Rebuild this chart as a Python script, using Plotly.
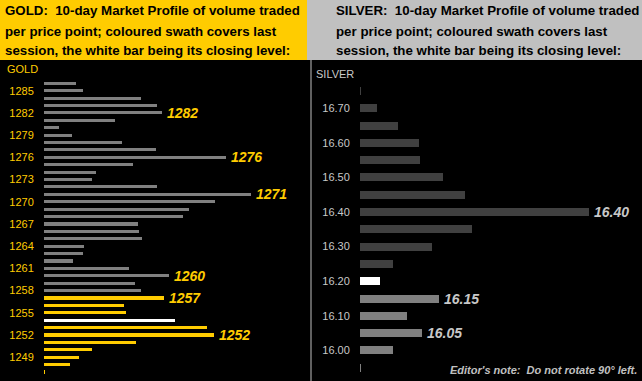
import plotly.graph_objects as go

# ---------------- data ----------------
gold_prices = list(range(1286, 1246, -1))
gold_volume = [32, 39, 97, 113, 118, 71, 15, 28, 78, 112,
               182, 89, 52, 48, 113, 207, 171, 145, 139, 94,
               95, 98, 40, 39, 29, 85, 125, 91, 97, 120,
               80, 82, 131, 163, 170, 92, 48, 35, 26, 1]
gold_session_high = 1257
gold_close = 1254
gold_ticks = [1285, 1282, 1279, 1276, 1273, 1270, 1267, 1264, 1261, 1258, 1255, 1252, 1249]
gold_labels = [1282, 1276, 1271, 1260, 1257, 1252]

silver_prices = [16.75, 16.70, 16.65, 16.60, 16.55, 16.50, 16.45, 16.40, 16.35,
                 16.30, 16.25, 16.20, 16.15, 16.10, 16.05, 16.00, 15.95]
silver_volume = [1, 17, 38, 59, 60, 83, 105, 229, 112, 72, 33, 20, 79, 47, 62, 33, 1]
silver_session_high = 16.15
silver_close = 16.20
silver_ticks = [16.70, 16.60, 16.50, 16.40, 16.30, 16.20, 16.10, 16.00]
silver_labels = [16.40, 16.15, 16.05]

gold_title = ["GOLD:  10-day Market Profile of volume traded",
              "per price point; coloured swath covers last",
              "session, the white bar being its closing level:"]
silver_title = ["SILVER:  10-day Market Profile of volume traded",
                "per price point; coloured swath covers last",
                "session, the white bar being its closing level:"]

# ---------------- styling ----------------
W, H = 642, 381
HEADER = 60
GOLD = "#FFCC00"
GREY = "#808080"
DARK = "#404040"
LIGHT = "#C8C8C8"
FONT = "Liberation Sans, Arial, sans-serif"

gold_colors = []
for p in gold_prices:
    if p == gold_close:
        gold_colors.append("#FFFFFF")
    elif p <= gold_session_high:
        gold_colors.append(GOLD)
    else:
        gold_colors.append(GREY)

silver_colors = []
for p in silver_prices:
    if abs(p - silver_close) < 1e-9:
        silver_colors.append("#FFFFFF")
    elif p <= silver_session_high + 1e-9:
        silver_colors.append(GREY)
    else:
        silver_colors.append(DARK)

fig = go.Figure()
fig.add_trace(go.Bar(x=gold_volume, y=gold_prices, orientation="h",
                     marker=dict(color=gold_colors, line=dict(width=0)),
                     width=0.42, xaxis="x", yaxis="y", hoverinfo="x+y"))
fig.add_trace(go.Bar(x=silver_volume, y=silver_prices, orientation="h",
                     marker=dict(color=silver_colors, line=dict(width=0)),
                     width=0.023, xaxis="x2", yaxis="y2", hoverinfo="x+y"))

ytop = (H - HEADER) / H

# gold axis: 1286 at px 83.3, spacing 7.40 px per $1
g_top = gold_prices[0] + (83.3 - HEADER) / 7.40
g_bot = gold_prices[-1] - (H - 372.0) / 7.40
# silver axis: 16.75 at px 91, 17.29 px per 0.05
s_top = silver_prices[0] + (91.0 - HEADER) / 17.29 * 0.05
s_bot = silver_prices[-1] - (H - 367.7) / 17.29 * 0.05

fig.update_layout(
    width=W, height=H, margin=dict(l=0, r=0, t=0, b=0),
    paper_bgcolor="#000000", plot_bgcolor="rgba(0,0,0,0)",
    showlegend=False, bargap=0,
    xaxis=dict(domain=[44 / W, 310 / W], range=[0, 266], visible=False, fixedrange=True),
    yaxis=dict(domain=[0, ytop], range=[g_bot, g_top], tickvals=gold_ticks,
               ticktext=[str(t) for t in gold_ticks], showgrid=False, zeroline=False,
               showline=False, ticks="outside", ticklen=7, tickcolor="rgba(0,0,0,0)",
               tickfont=dict(family=FONT, size=11, color=GOLD), fixedrange=True),
    xaxis2=dict(domain=[360 / W, 1], range=[0, 282], visible=False, anchor="y2", fixedrange=True),
    yaxis2=dict(domain=[0, ytop], range=[s_bot, s_top], tickvals=silver_ticks,
                ticktext=[f"{t:.2f}" for t in silver_ticks], anchor="x2",
                showgrid=False, zeroline=False, showline=False,
                ticks="outside", ticklen=7, tickcolor="rgba(0,0,0,0)",
                tickfont=dict(family=FONT, size=11, color=LIGHT), fixedrange=True),
    shapes=[
        dict(type="rect", xref="paper", yref="paper", x0=0, x1=307 / W, y0=ytop, y1=1,
             fillcolor=GOLD, line=dict(width=0), layer="below"),
        dict(type="rect", xref="paper", yref="paper", x0=307 / W, x1=1, y0=ytop, y1=1,
             fillcolor="#C0C0C0", line=dict(width=0), layer="below"),
        dict(type="line", xref="paper", yref="paper", x0=311 / W, x1=311 / W, y0=0, y1=ytop,
             line=dict(color="#C0C0C0", width=1)),
    ],
)

ann = []
line_y = [10, 31, 50]
for i, txt in enumerate(gold_title):
    ann.append(dict(text=f"<b>{txt}</b>", xref="paper", yref="paper", x=3 / W,
                    y=(H - line_y[i]) / H, xanchor="left", yanchor="middle", showarrow=False,
                    font=dict(family=FONT, size=13.3, color="#000000")))
for i, txt in enumerate(silver_title):
    ann.append(dict(text=f"<b>{txt}</b>", xref="paper", yref="paper", x=334 / W,
                    y=(H - line_y[i]) / H, xanchor="left", yanchor="middle", showarrow=False,
                    font=dict(family=FONT, size=13.3, color="#000000")))

ann.append(dict(text="GOLD", xref="paper", yref="paper", x=5 / W, y=(H - 69) / H,
                xanchor="left", yanchor="middle", showarrow=False,
                font=dict(family=FONT, size=11, color=GOLD)))
ann.append(dict(text="SILVER", xref="paper", yref="paper", x=314 / W, y=(H - 74) / H,
                xanchor="left", yanchor="middle", showarrow=False,
                font=dict(family=FONT, size=11, color=LIGHT)))

for p in gold_labels:
    v = gold_volume[gold_prices.index(p)]
    ann.append(dict(text=f"<b><i>{p}</i></b>", xref="x", yref="y", x=v, y=p,
                    xanchor="left", yanchor="middle", xshift=3, showarrow=False,
                    font=dict(family=FONT, size=14, color=GOLD)))
for p in silver_labels:
    idx = min(range(len(silver_prices)), key=lambda k: abs(silver_prices[k] - p))
    v = silver_volume[idx]
    ann.append(dict(text=f"<b><i>{p:.2f}</i></b>", xref="x2", yref="y2", x=v, y=p,
                    xanchor="left", yanchor="middle", xshift=3, showarrow=False,
                    font=dict(family=FONT, size=14, color=LIGHT)))

ann.append(dict(text="<b><i>Editor's note:  Do not rotate 90° left.</i></b>", xref="paper",
                yref="paper", x=639 / W, y=(H - 370) / H, xanchor="right", yanchor="middle",
                showarrow=False, font=dict(family=FONT, size=11, color="#C0C0C0")))

fig.update_layout(annotations=ann)
fig.write_html("out.html", config={"displayModeBar": False},
               post_script="document.body.style.margin='0';document.body.style.overflow='hidden';")
